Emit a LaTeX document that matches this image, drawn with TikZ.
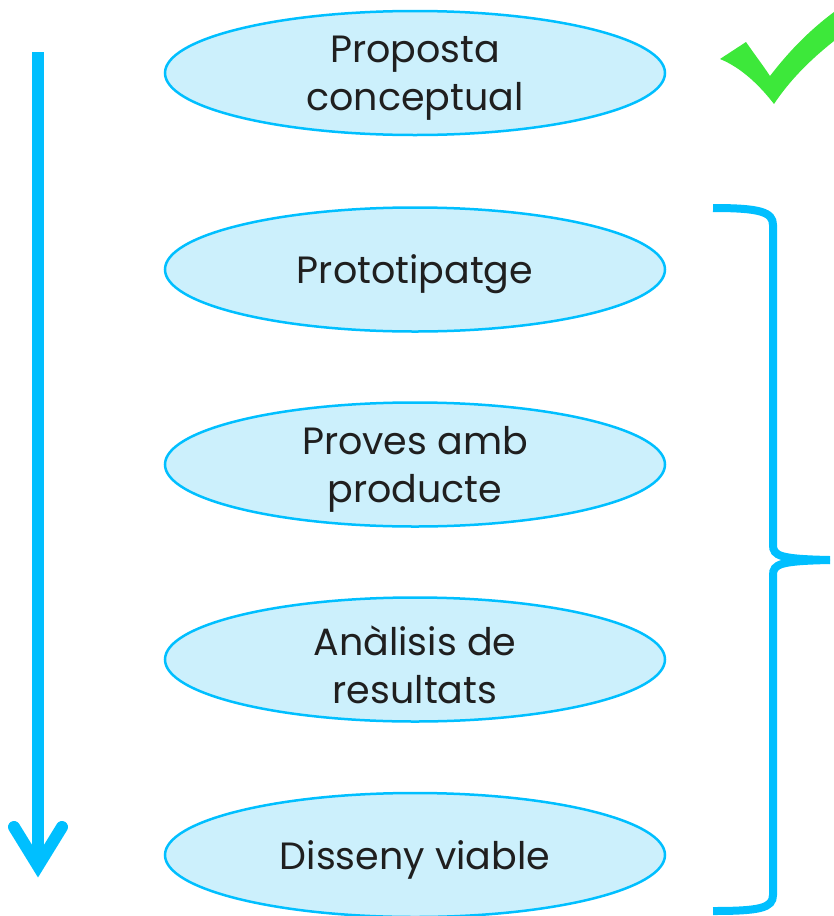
\documentclass[tikz,border=0pt]{standalone}
\usepackage{fontspec}
\setmainfont{Poppins}
\usetikzlibrary{shapes.geometric}
\definecolor{skyb}{HTML}{00BFFF}
\definecolor{lightc}{HTML}{CCF0FC}
\definecolor{checkg}{HTML}{3DE83A}
\begin{document}
\begin{tikzpicture}[x=1pt,y=-1pt,
  stage/.style={ellipse, draw=skyb, line width=2.5pt, fill=lightc,
    minimum width=500pt, minimum height=124pt, inner sep=0pt},
  stagetext/.style={align=center, inner sep=0pt, yshift=-5pt,
    font=\fontsize{38}{48}\selectfont, text=black!88},
  flow/.style={draw=skyb, line width=12pt},
  bracket/.style={draw=skyb, line width=8pt}]
\useasboundingbox (0,0) rectangle (834,916);
\node[stage] (s1) at (415,73) {};
\node[stage] (s2) at (415,269.5) {};
\node[stage] (s3) at (415,464.5) {};
\node[stage] (s4) at (415,659.5) {};
\node[stage] (s5) at (415,855) {};
\node[stagetext] (t1) at (s1.center) {Proposta\\conceptual};
\node[stagetext] (t2) at (s2.center) {Prototipatge};
\node[stagetext] (t3) at (s3.center) {Proves amb\\producte};
\node[stagetext] (t4) at (s4.center) {Anàlisis de\\resultats};
\node[stagetext] (t5) at (s5.center) {Disseny viable};
% vertical arrow
\coordinate (atop) at (38,52);
\coordinate (atip) at (38,866);
\coordinate (awl) at (14,827);
\coordinate (awr) at (62,827);
\draw[flow] (atop) -- ([yshift=6pt]atip);
\draw[flow, line cap=round, line join=miter] (awl) -- (atip) -- (awr);
% check mark
\fill[checkg] (720,59) -- (746,42) .. controls (755,55) and (762,64) .. (770,76)
  .. controls (790,50) and (810,30) .. (834,12) -- (834,41)
  .. controls (810,60) and (790,80) .. (774,104)
  .. controls (760,86) and (742,68) .. (720,59) -- cycle;
% brace
\coordinate (bt) at (713,208);
\coordinate (bm) at (830,560);
\coordinate (bb) at (713,911);
\draw[bracket] (bt) .. controls (760,208) and (773,212) .. (773,225) -- (773,545)
  .. controls (773,556) and (780,559) .. (bm);
\draw[bracket] (bm) .. controls (780,561) and (773,564) .. (773,575) -- (773,895)
  .. controls (773,908) and (760,911) .. (bb);
\end{tikzpicture}
\end{document}
